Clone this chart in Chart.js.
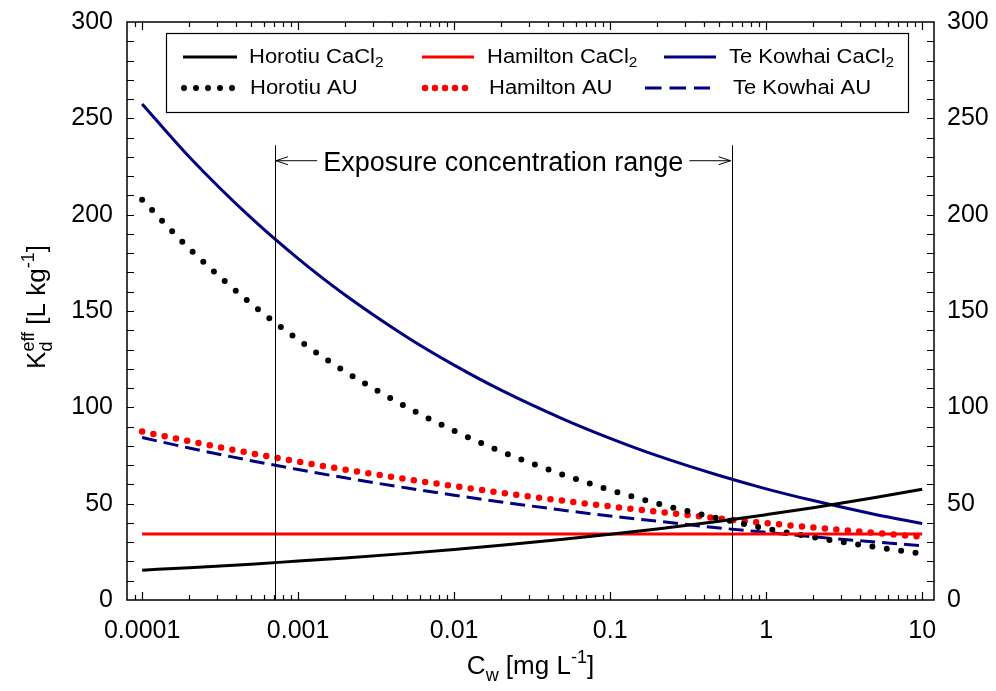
<!DOCTYPE html>
<html>
<head>
<meta charset="utf-8">
<script src="https://cdn.jsdelivr.net/npm/chart.js@4.4.1/dist/chart.umd.min.js"></script>
<style>
  html, body { margin: 0; padding: 0; background: #fff; }
</style>
</head>
<body>
<canvas id="kdChart" width="996" height="691"></canvas>
<script>
// concentration in water, mg/L
var cw = [0.0001, 0.0002, 0.0005, 0.001, 0.002, 0.005, 0.01, 0.02, 0.05, 0.1, 0.2, 0.5, 1, 2, 5, 10];

// Kd eff values, L/kg
var horotiuCaCl2  = [15.5, 16.8, 18.6, 20.2, 21.8, 24.2, 26.2, 28.4, 31.5, 34.1, 36.9, 40.9, 44.3, 47.9, 53.2, 57.5];
var hamiltonCaCl2 = [34.3, 34.3, 34.3, 34.3, 34.3, 34.3, 34.3, 34.3, 34.3, 34.3, 34.3, 34.3, 34.3, 34.3, 34.3, 34.3];
var teKowhaiCaCl2 = [257.5, 230.1, 198.3, 177.2, 158.3, 136.4, 121.9, 108.9, 93.9, 83.9, 74.9, 64.6, 57.7, 51.6, 44.4, 39.7];
var horotiuAU     = [207.8, 182.5, 153.8, 135.1, 118.6, 100.0, 87.8, 77.1, 65.0, 57.1, 50.1, 42.3, 37.1, 32.6, 27.5, 24.1];
var hamiltonAU    = [87.4, 82.4, 76.2, 71.8, 67.7, 62.7, 59.1, 55.7, 51.5, 48.6, 45.8, 42.3, 39.9, 37.6, 34.8, 32.8];
var teKowhaiAU    = [84.3, 78.9, 72.3, 67.7, 63.4, 58.1, 54.4, 50.9, 46.6, 43.6, 40.9, 37.4, 35.1, 32.8, 30.1, 28.2];

var xTickValues = [0.0001, 0.001, 0.01, 0.1, 1, 10];
var xTickLabels = ['0.0001', '0.001', '0.01', '0.1', '1', '10'];
var yTickValues = [0, 50, 100, 150, 200, 250, 300];

// exposure concentration range (mg/L) and where its marker sits (L/kg)
var exposureRange = [0.00071, 0.6];
var exposureTop = 236;
var exposureArrowAt = 228;

var FONT = '"Liberation Sans", Arial, sans-serif';
Chart.defaults.font.family = FONT;
Chart.defaults.color = '#000';

function pts(arr) {
  return cw.map(function (x, i) { return { x: x, y: arr[i] }; });
}

// draws text made of pieces with sub/superscripts, returns width
function richText(ctx, parts, x, y, measureOnly) {
  var w = 0;
  parts.forEach(function (p) {
    ctx.font = p.size + 'px ' + FONT;
    var pw = ctx.measureText(p.t).width;
    if (!measureOnly) ctx.fillText(p.t, x + w, y + (p.dy || 0));
    w += pw;
  });
  return w;
}

function legendParts(label) {
  if (label.slice(-1) === '2') {
    return [{ t: label.slice(0, -1), size: 20 }, { t: '2', size: 14, dy: 6 }];
  }
  return [{ t: label, size: 20 }];
}

var legendLayout = [
  { sx: 183, sw: 54, tx: 249, y: 57 },
  { sx: 422, sw: 52, tx: 487, y: 57 },
  { sx: 664, sw: 52, tx: 729, y: 57 },
  { sx: 184, sw: 48.5, tx: 250, y: 88 },
  { sx: 425, sw: 40.5, tx: 489, y: 88 },
  { sx: 645, sw: 65, tx: 733, y: 88 }
];

function noOverflow(scale) {
  scale.paddingTop = 0;
  scale.paddingBottom = 0;
}

var decorPlugin = {
  id: 'decor',
  afterDatasetsDraw: function (chart) {
    var ctx = chart.ctx, a = chart.chartArea;
    var xs = chart.scales.x, ys = chart.scales.y;
    ctx.save();

    // exposure range lines + arrows
    var xl = xs.getPixelForValue(exposureRange[0]);
    var xr = xs.getPixelForValue(exposureRange[1]);
    var yt = ys.getPixelForValue(exposureTop);
    var ya = ys.getPixelForValue(exposureArrowAt);
    ctx.strokeStyle = '#000';
    ctx.lineWidth = 1;
    ctx.beginPath();
    ctx.moveTo(Math.round(xl) + 0.5, yt); ctx.lineTo(Math.round(xl) + 0.5, a.bottom);
    ctx.moveTo(Math.round(xr) + 0.5, yt); ctx.lineTo(Math.round(xr) + 0.5, a.bottom);
    ctx.stroke();

    ctx.font = '27px ' + FONT;
    ctx.fillStyle = '#000';
    var label = 'Exposure concentration range';
    var tw = ctx.measureText(label).width;
    var mid = (xl + xr) / 2;
    ctx.textBaseline = 'alphabetic';
    ctx.fillText(label, mid - tw / 2, ya + 10.5);
    ctx.beginPath();
    ctx.moveTo(xl + 1, ya); ctx.lineTo(mid - tw / 2 - 6, ya);
    ctx.moveTo(xl + 13, ya - 4); ctx.lineTo(xl + 1, ya); ctx.lineTo(xl + 13, ya + 4);
    ctx.moveTo(mid + tw / 2 + 6, ya); ctx.lineTo(xr - 1, ya);
    ctx.moveTo(xr - 13, ya - 4); ctx.lineTo(xr - 1, ya); ctx.lineTo(xr - 13, ya + 4);
    ctx.stroke();

    // frame
    ctx.lineWidth = 1.5;
    ctx.strokeRect(a.left, a.top, a.right - a.left, a.bottom - a.top);

    // ticks pointing inward
    ctx.lineWidth = 1.2;
    ctx.beginPath();
    for (var v = 10; v < 300; v += 10) {
      var py = Math.round(ys.getPixelForValue(v)) + 0.5;
      ctx.moveTo(a.left, py); ctx.lineTo(a.left + 7, py);
      ctx.moveTo(a.right, py); ctx.lineTo(a.right - 7, py);
    }
    for (var e = -5; e <= 1; e++) {
      for (var m = 1; m <= 9; m++) {
        var val = m * Math.pow(10, e);
        var px = xs.getPixelForValue(val);
        if (px < a.left + 2 || px > a.right - 2) continue;
        px = Math.round(px) + 0.5;
        var len = m === 1 ? 8 : 5;
        ctx.moveTo(px, a.bottom); ctx.lineTo(px, a.bottom - len);
        ctx.moveTo(px, a.top); ctx.lineTo(px, a.top + len);
      }
    }
    ctx.stroke();

    // legend
    ctx.fillStyle = '#fff';
    ctx.fillRect(166, 33, 742, 79);
    ctx.lineWidth = 1.2;
    ctx.strokeRect(166.5, 33.5, 742, 79);
    chart.data.datasets.forEach(function (ds, i) {
      var L = legendLayout[i];
      ctx.save();
      ctx.strokeStyle = ds.borderColor;
      ctx.lineWidth = ds.borderWidth;
      ctx.lineCap = ds.borderCapStyle || 'butt';
      ctx.setLineDash(ds.legendDash || ds.borderDash || []);
      ctx.beginPath();
      ctx.moveTo(L.sx, L.y); ctx.lineTo(L.sx + L.sw, L.y);
      ctx.stroke();
      ctx.restore();
      ctx.save();
      ctx.fillStyle = '#000';
      ctx.textBaseline = 'middle';
      ctx.translate(L.tx, L.y);
      ctx.scale(1.1, 1);
      richText(ctx, legendParts(ds.label), 0, 0);
      ctx.restore();
    });
    ctx.restore();
  },
  afterDraw: function (chart) {
    var ctx = chart.ctx, a = chart.chartArea;
    ctx.save();
    ctx.fillStyle = '#000';
    ctx.textBaseline = 'alphabetic';

    // x title
    var xParts = [
      { t: 'C', size: 26 },
      { t: 'w', size: 18, dy: 7 },
      { t: ' [mg L', size: 26 },
      { t: '-1', size: 18, dy: -11 },
      { t: ']', size: 26 }
    ];
    var w = richText(ctx, xParts, 0, 0, true);
    richText(ctx, xParts, (a.left + a.right) / 2 - w / 2, 674);

    // y title, rotated; "eff" sits above the "d" subscript
    ctx.font = '18px ' + FONT;
    var effW = ctx.measureText('eff').width;
    ctx.font = '26px ' + FONT;
    var kW = ctx.measureText('K').width;
    var restParts = [
      { t: ' [L kg', size: 26 },
      { t: '-1', size: 18, dy: -11 },
      { t: ']', size: 26 }
    ];
    var restW = richText(ctx, restParts, 0, 0, true);
    var total = kW + effW + restW;
    ctx.translate(45, (a.top + a.bottom) / 2 - 4);
    ctx.rotate(-Math.PI / 2);
    var x0 = -total / 2;
    ctx.font = '26px ' + FONT;
    ctx.fillText('K', x0, 0);
    ctx.font = '18px ' + FONT;
    ctx.fillText('eff', x0 + kW, -11);
    ctx.fillText('d', x0 + kW, 7);
    richText(ctx, restParts, x0 + kW + effW, 0);
    ctx.restore();
  }
};

new Chart('kdChart', {
  type: 'line',
  data: {
    datasets: [
      { label: 'Horotiu CaCl2', data: pts(horotiuCaCl2), borderColor: '#000000', borderWidth: 3 },
      { label: 'Hamilton CaCl2', data: pts(hamiltonCaCl2), borderColor: '#ff0000', borderWidth: 3 },
      { label: 'Te Kowhai CaCl2', data: pts(teKowhaiCaCl2), borderColor: '#000080', borderWidth: 3 },
      { label: 'Horotiu AU', data: pts(horotiuAU), borderColor: '#000000', borderWidth: 6,
        borderDash: [0, 14.5], borderCapStyle: 'round', legendDash: [0, 12] },
      { label: 'Hamilton AU', data: pts(hamiltonAU), borderColor: '#ff0000', borderWidth: 6.5,
        borderDash: [0, 11.5], borderCapStyle: 'round', legendDash: [0, 10] },
      { label: 'Te Kowhai AU', data: pts(teKowhaiAU), borderColor: '#000080', borderWidth: 3,
        borderDash: [15, 7], legendDash: [16.5, 8] }
    ]
  },
  options: {
    responsive: false,
    animation: false,
    layout: { padding: { top: 22, left: 0, right: 0, bottom: 0 } },
    elements: {
      point: { radius: 0 },
      line: { cubicInterpolationMode: 'monotone', fill: false }
    },
    plugins: {
      legend: { display: false },
      tooltip: { enabled: false }
    },
    scales: {
      x: {
        type: 'logarithmic',
        position: 'bottom',
        min: 0.00008,
        max: 11.9,
        afterBuildTicks: function (scale) {
          scale.ticks = xTickValues.map(function (v) { return { value: v }; });
        },
        afterFit: function (scale) { scale.height = 91; },
        grid: { display: false, drawTicks: false },
        border: { display: false },
        ticks: {
          autoSkip: false,
          maxRotation: 0,
          padding: 16,
          font: { size: 25 },
          callback: function (value) {
            var i = xTickValues.indexOf(value);
            return i >= 0 ? xTickLabels[i] : '';
          }
        }
      },
      y: {
        position: 'left',
        min: 0,
        max: 300,
        afterBuildTicks: function (scale) {
          scale.ticks = yTickValues.map(function (v) { return { value: v }; });
        },
        afterFit: function (scale) { scale.width = 127; noOverflow(scale); },
        grid: { display: false, drawTicks: false },
        border: { display: false },
        ticks: { padding: 14, font: { size: 25 } }
      },
      y2: {
        position: 'right',
        min: 0,
        max: 300,
        afterBuildTicks: function (scale) {
          scale.ticks = yTickValues.map(function (v) { return { value: v }; });
        },
        afterFit: function (scale) { scale.width = 62; noOverflow(scale); },
        grid: { display: false, drawTicks: false },
        border: { display: false },
        ticks: { padding: 13, font: { size: 25 } }
      }
    }
  },
  plugins: [decorPlugin]
});
</script>
</body>
</html>
